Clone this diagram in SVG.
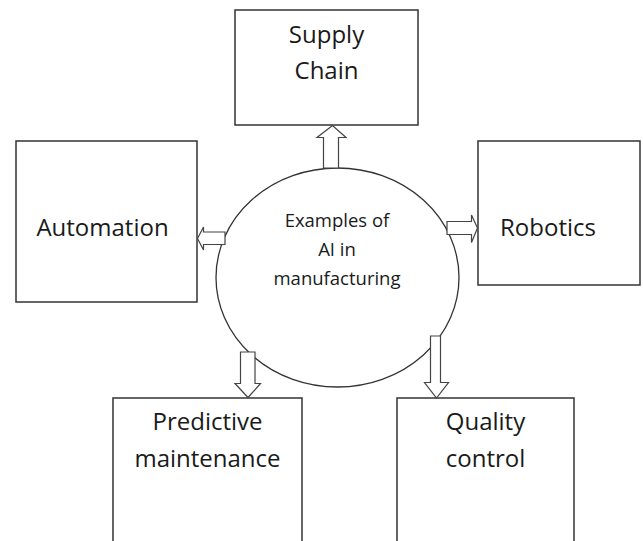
<svg xmlns="http://www.w3.org/2000/svg" width="643" height="541" viewBox="0 0 643 541">
  <style>
    .box { fill: #ffffff; stroke: #333333; stroke-width: 1.5; }
    .hub { fill: #ffffff; stroke: #333333; stroke-width: 1.3; }
    .arrow { fill: #ffffff; stroke: #444444; stroke-width: 1.2; stroke-linejoin: miter; }
    .label { font-family: "Open Sans", "Liberation Sans", sans-serif; font-size: 24px; fill: #1a1a1a; text-anchor: middle; }
    .hub-label { font-family: "Open Sans", "Liberation Sans", sans-serif; font-size: 18.5px; fill: #1a1a1a; text-anchor: middle; }
  </style>
  <rect width="643" height="541" fill="#ffffff"/>

  <g id="hub">
    <ellipse class="hub" cx="337.5" cy="277.5" rx="121.5" ry="109.5"/>
    <text class="hub-label" x="337" y="227">Examples of</text>
    <text class="hub-label" x="337" y="256">AI in</text>
    <text class="hub-label" x="337" y="285">manufacturing</text>
  </g>

  <g id="supply-chain">
    <rect class="box" x="235" y="10" width="183" height="115"/>
    <text class="label" x="326.5" y="43">Supply</text>
    <text class="label" x="326.5" y="79">Chain</text>
  </g>

  <g id="automation">
    <rect class="box" x="16" y="141" width="181" height="161"/>
    <text class="label" x="102.5" y="236">Automation</text>
  </g>

  <g id="robotics">
    <rect class="box" x="478" y="141" width="162" height="144"/>
    <text class="label" x="548" y="236">Robotics</text>
  </g>

  <g id="predictive-maintenance">
    <rect class="box" x="113" y="398" width="189" height="150"/>
    <text class="label" x="207.5" y="430">Predictive</text>
    <text class="label" x="207.5" y="467">maintenance</text>
  </g>

  <g id="quality-control">
    <rect class="box" x="397" y="398" width="177" height="150"/>
    <text class="label" x="485.5" y="430">Quality</text>
    <text class="label" x="485.5" y="467">control</text>
  </g>

  <g id="connectors">
    <!-- up to Supply Chain -->
    <polygon class="arrow" points="323.5,168 323.5,137.5 317,137.5 332.5,125.5 346,137.5 338.5,137.5 338.5,168"/>
    <!-- left to Automation -->
    <polygon class="arrow" points="225,232 203.5,232 203.5,227 197.5,238.5 203.5,250 203.5,244.5 225,244.5"/>
    <!-- right to Robotics -->
    <polygon class="arrow" points="447,221.5 471.5,221.5 471.5,215 477.5,228 471.5,242.5 471.5,234.5 447,234.5"/>
    <!-- down to Predictive maintenance -->
    <polygon class="arrow" points="240.5,352 240.5,383.5 235,383.5 248,397.5 260.5,383.5 255,383.5 255,352"/>
    <!-- down to Quality control -->
    <polygon class="arrow" points="430.5,336 430.5,382.5 424.5,382.5 436.5,398 448.5,382.5 440.5,382.5 440.5,336"/>
  </g>
</svg>
